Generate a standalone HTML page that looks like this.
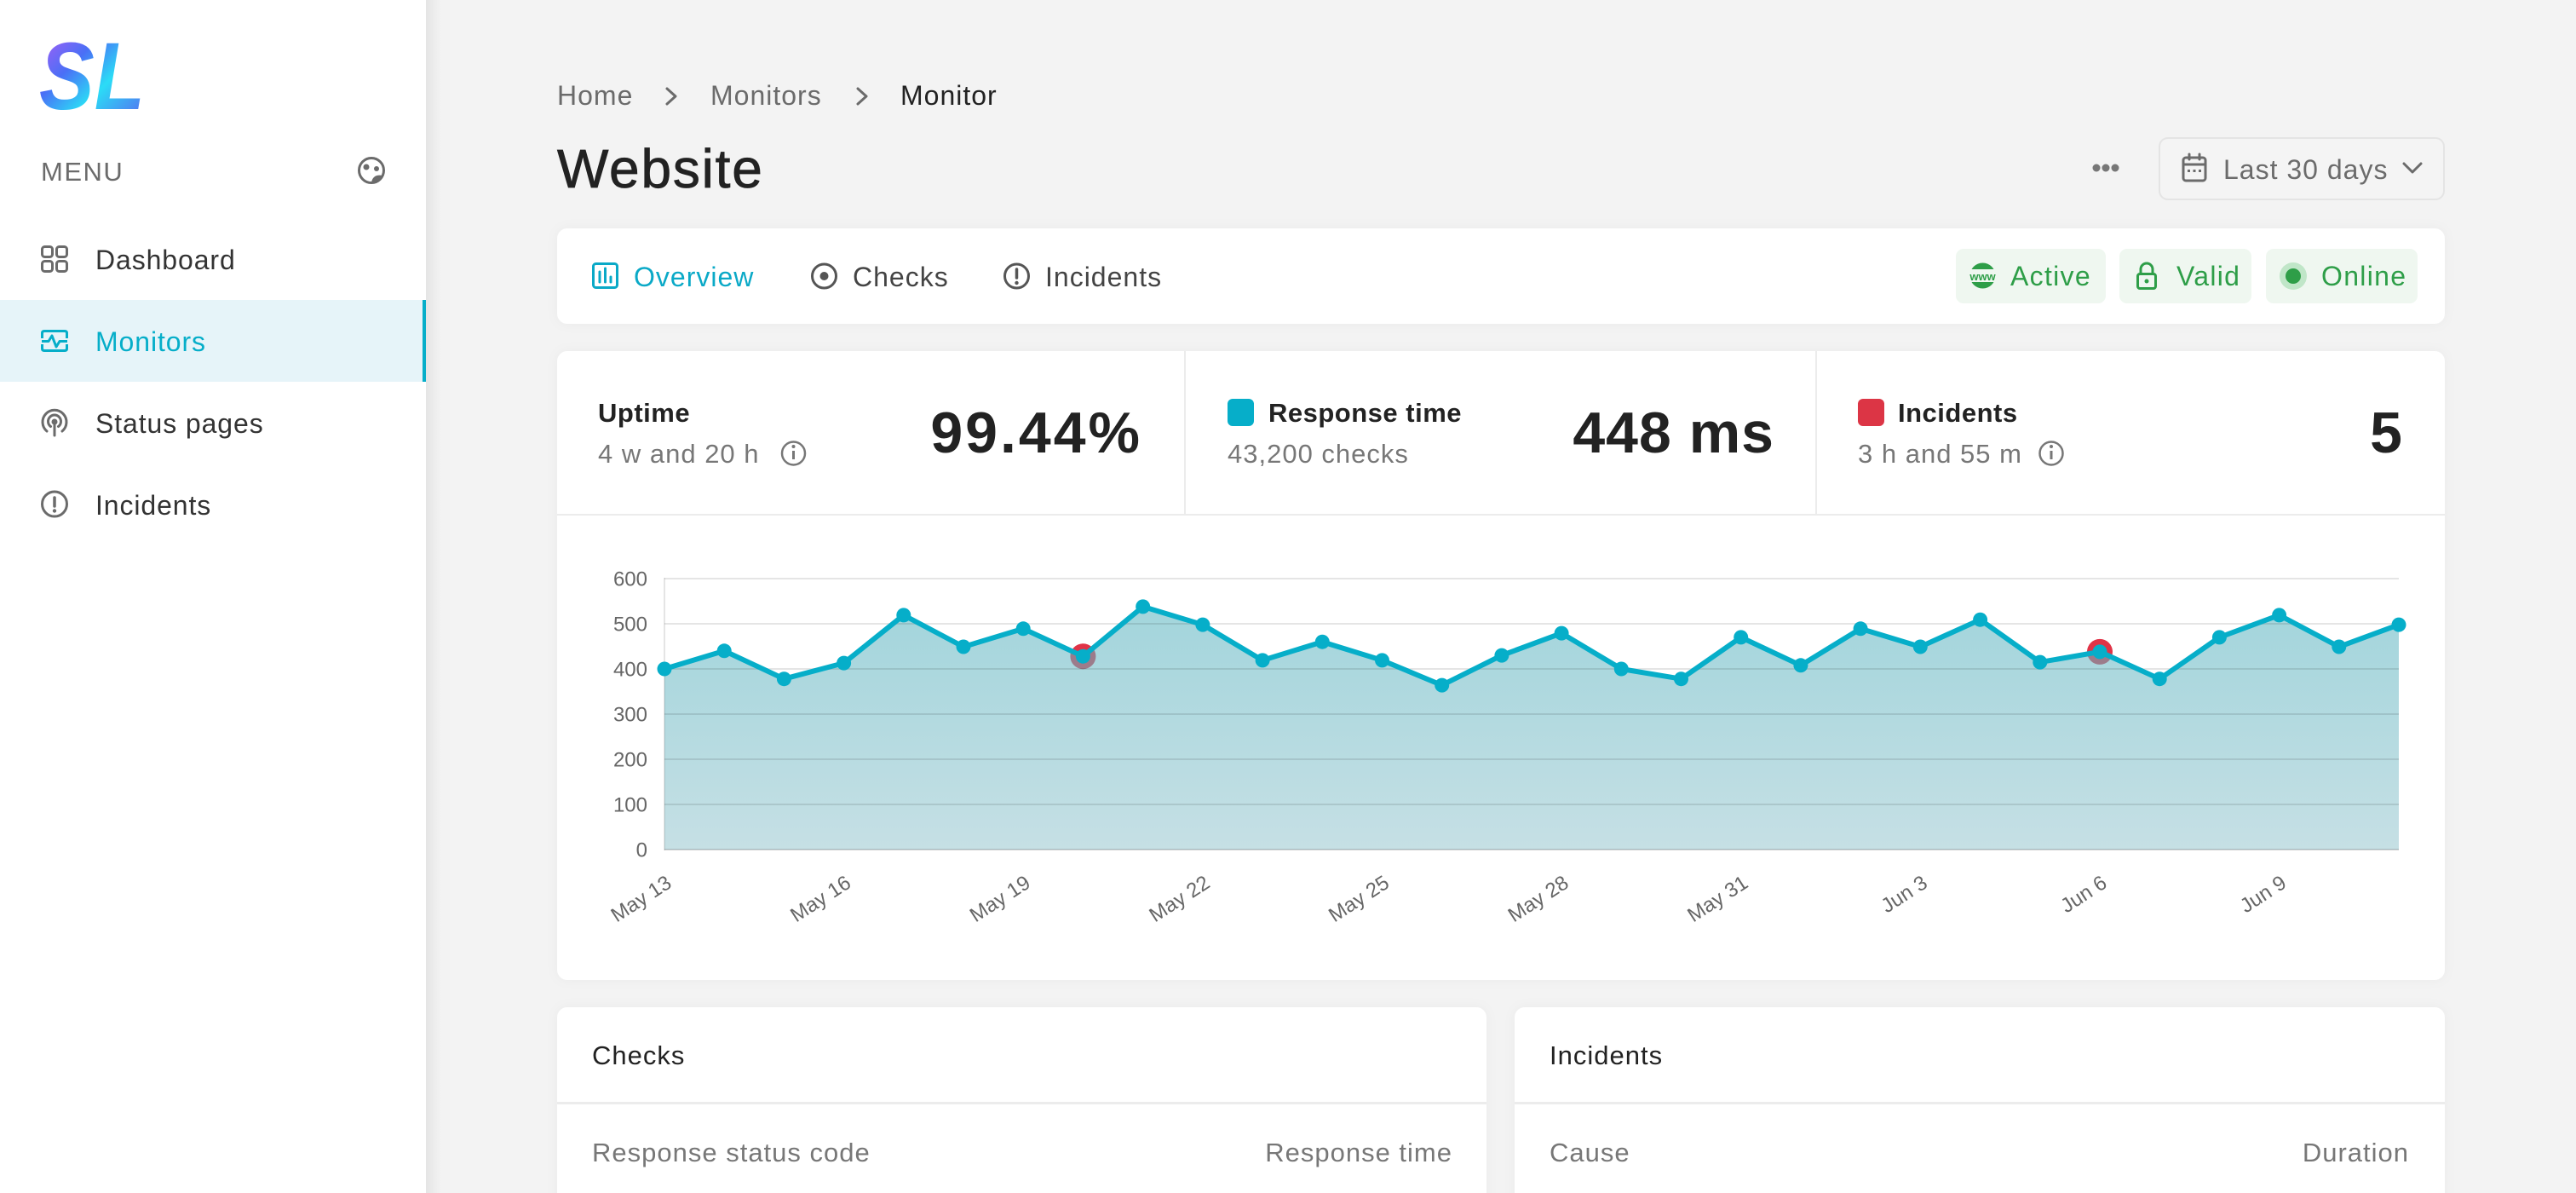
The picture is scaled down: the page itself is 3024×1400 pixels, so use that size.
<!DOCTYPE html>
<html><head><meta charset="utf-8"><style>
html,body{margin:0;padding:0;background:#f3f3f3;width:3024px;height:1400px;overflow:hidden}
svg{display:block}
text{font-family:"Liberation Sans",sans-serif}
</style></head><body>
<svg width="3024" height="1400" viewBox="0 0 3024 1400" xmlns="http://www.w3.org/2000/svg">
<defs>
<linearGradient id="lg" x1="0" y1="0" x2="1" y2="1">
<stop offset="0" stop-color="#c05af6"/><stop offset="0.35" stop-color="#4a6ff6"/><stop offset="0.6" stop-color="#2bdcf6"/><stop offset="1" stop-color="#5d58f0"/>
</linearGradient>
<linearGradient id="ag" gradientUnits="userSpaceOnUse" x1="0" y1="679" x2="0" y2="997">
<stop offset="0" stop-color="#4fb0bd"/><stop offset="1" stop-color="#97c6cf"/>
</linearGradient>
<linearGradient id="sbs" x1="0" y1="0" x2="1" y2="0">
<stop offset="0" stop-color="#000" stop-opacity="0.06"/><stop offset="1" stop-color="#000" stop-opacity="0"/>
</linearGradient>
<filter id="sh" x="-5%" y="-20%" width="110%" height="140%"><feDropShadow dx="0" dy="0" stdDeviation="7" flood-color="#000" flood-opacity="0.035"/></filter>
</defs>

<!-- Sidebar -->
<rect x="500" y="0" width="18" height="1400" fill="url(#sbs)"/>
<rect x="0" y="0" width="500" height="1400" fill="#fff"/>
<text x="46" y="128" font-size="112" font-weight="bold" font-style="italic" textLength="124" lengthAdjust="spacingAndGlyphs" fill="url(#lg)">SL</text>
<text x="48" y="212" font-size="31" letter-spacing="1.5" fill="#6b6b6b">MENU</text>
<g stroke="#6b6b6b" stroke-width="3" fill="none"><circle cx="436" cy="200" r="14.5"/></g>
<circle cx="430" cy="196" r="3.5" fill="#6b6b6b"/><circle cx="442" cy="198" r="3" fill="#6b6b6b"/>
<path d="M436 214 Q438 204 449 206 Q446 212 436 214Z" fill="#6b6b6b"/>

<rect x="0" y="352" width="500" height="96" fill="#e6f4f9"/>
<rect x="496" y="352" width="4" height="96" fill="#06aec9"/>

<g stroke="#6b6b6b" stroke-width="3" fill="none">
<rect x="49.5" y="289.5" width="12" height="12" rx="3"/><rect x="66.5" y="289.5" width="12" height="12" rx="3"/>
<rect x="49.5" y="306.5" width="12" height="12" rx="3"/><rect x="66.5" y="306.5" width="12" height="12" rx="3"/>
</g>
<g stroke="#06aec9" stroke-width="3" fill="none" stroke-linejoin="round">
<path d="M49.5 397 V391 Q49.5 388.5 52 388.5 H76 Q78.5 388.5 78.5 391 V397"/>
<path d="M49.5 404 V409 Q49.5 411.5 52 411.5 H76 Q78.5 411.5 78.5 409 V404"/>
<polyline points="49,400.5 57,400.5 61,394 66,407 70,400.5 79,400.5"/>
</g>
<g stroke="#6b6b6b" stroke-width="3" fill="none" stroke-linecap="round">
<path d="M55 506 A14 14 0 1 1 73 506"/>
<path d="M59.5 500.5 A7.5 7.5 0 1 1 68.5 500.5"/>
<line x1="64" y1="496" x2="64" y2="511"/>
</g>
<circle cx="64" cy="495" r="3.5" fill="#6b6b6b"/>
<circle cx="64" cy="591.5" r="14.5" stroke="#6b6b6b" stroke-width="3" fill="none"/>
<line x1="64" y1="584" x2="64" y2="594" stroke="#6b6b6b" stroke-width="3.5" stroke-linecap="round"/>
<circle cx="64" cy="599.5" r="2.2" fill="#6b6b6b"/>

<g font-size="32" letter-spacing="0.9">
<text x="112" y="316" fill="#333">Dashboard</text>
<text x="112" y="412" fill="#06aec9">Monitors</text>
<text x="112" y="508" fill="#333">Status pages</text>
<text x="112" y="604" fill="#333">Incidents</text>
</g>

<!-- Header -->
<g font-size="32" letter-spacing="1">
<text x="654" y="123" fill="#6b6b6b">Home</text>
<text x="834" y="123" fill="#6b6b6b">Monitors</text>
<text x="1057" y="123" fill="#222">Monitor</text>
</g>
<g stroke="#6b6b6b" stroke-width="3" fill="none" stroke-linecap="round" stroke-linejoin="round">
<polyline points="783,104 793,113 783,122"/><polyline points="1007,104 1017,113 1007,122"/>
</g>
<text x="654" y="220" font-size="64" letter-spacing="1.8" fill="#222" stroke="#222" stroke-width="0.8">Website</text>

<circle cx="2461" cy="197" r="4.5" fill="#777"/><circle cx="2472" cy="197" r="4.5" fill="#777"/><circle cx="2483" cy="197" r="4.5" fill="#777"/>
<rect x="2535" y="162" width="334" height="72" rx="10" fill="#f4f4f4" stroke="#e4e4e4" stroke-width="2"/>
<g stroke="#6b6b6b" stroke-width="3" fill="none" stroke-linecap="round">
<rect x="2563" y="185" width="26" height="27" rx="3"/><line x1="2563" y1="193" x2="2589" y2="193"/>
<line x1="2570" y1="181" x2="2570" y2="187"/><line x1="2582" y1="181" x2="2582" y2="187"/>
<polyline points="2822,192 2832,202 2842,192" stroke-linejoin="round"/>
</g>
<rect x="2568" y="199" width="3" height="3" fill="#6b6b6b"/><rect x="2574.5" y="199" width="3" height="3" fill="#6b6b6b"/><rect x="2581" y="199" width="3" height="3" fill="#6b6b6b"/>
<text x="2610" y="210" font-size="32" letter-spacing="1" fill="#6b6b6b">Last 30 days</text>

<!-- Tabs card -->
<rect x="654" y="268" width="2216" height="112" rx="12" fill="#fff" filter="url(#sh)"/>
<g stroke="#0aa9c7" stroke-width="3" fill="none" stroke-linecap="round">
<rect x="696.5" y="309.5" width="28" height="28" rx="3"/>
<line x1="704" y1="319" x2="704" y2="331"/><line x1="710.5" y1="315" x2="710.5" y2="331"/><line x1="717" y1="325" x2="717" y2="331"/>
</g>
<text x="744" y="336" font-size="32" letter-spacing="1" fill="#0aa9c7">Overview</text>
<circle cx="967.5" cy="324" r="14" stroke="#555" stroke-width="3" fill="none"/><circle cx="967.5" cy="324" r="5" fill="#555"/>
<text x="1001" y="336" font-size="32" letter-spacing="1" fill="#444">Checks</text>
<circle cx="1193.5" cy="324" r="14" stroke="#555" stroke-width="3" fill="none"/>
<line x1="1193.5" y1="316" x2="1193.5" y2="326" stroke="#555" stroke-width="3.5" stroke-linecap="round"/><circle cx="1193.5" cy="332" r="2.2" fill="#555"/>
<text x="1227" y="336" font-size="32" letter-spacing="1" fill="#444">Incidents</text>

<rect x="2296" y="292" width="176" height="64" rx="9" fill="#eff7f0"/>
<rect x="2488" y="292" width="155" height="64" rx="9" fill="#eff7f0"/>
<rect x="2660" y="292" width="178" height="64" rx="9" fill="#eff7f0"/>
<circle cx="2327.5" cy="323.5" r="15" fill="#2e9e48"/>
<rect x="2311" y="316" width="33" height="15" fill="#eff7f0"/>
<text x="2327.5" y="329" font-size="13" font-weight="bold" text-anchor="middle" fill="#2e9e48">www</text>
<g stroke="#2e9e48" stroke-width="3" fill="none">
<path d="M2513 321 V316 A7 7 0 0 1 2527 316 V321"/>
<rect x="2509.5" y="321.5" width="21" height="17" rx="2.5"/>
</g>
<circle cx="2520" cy="330" r="2.5" fill="#2e9e48"/>
<circle cx="2692" cy="324" r="16" fill="#c0e6c8"/><circle cx="2692" cy="324" r="9" fill="#2e9e48"/>
<g font-size="32" letter-spacing="1.3" fill="#2e9e48">
<text x="2360" y="335">Active</text><text x="2555" y="335">Valid</text><text x="2725" y="335">Online</text>
</g>

<!-- Stats card -->
<rect x="654" y="412" width="2216" height="738" rx="12" fill="#fff" filter="url(#sh)"/>
<rect x="654" y="603" width="2216" height="2" fill="#ececec"/>
<rect x="1390" y="412" width="2" height="192" fill="#ececec"/>
<rect x="2131" y="412" width="2" height="192" fill="#ececec"/>

<text x="702" y="495" font-size="31" font-weight="bold" letter-spacing="0.5" fill="#222">Uptime</text>
<text x="702" y="543" font-size="31" letter-spacing="1" fill="#777">4 w and 20 h</text>
<circle cx="931.5" cy="532" r="13.5" stroke="#777" stroke-width="2.5" fill="none"/>
<line x1="931.5" y1="529" x2="931.5" y2="539" stroke="#777" stroke-width="3"/><circle cx="931.5" cy="524" r="2" fill="#777"/>
<text x="1341" y="531" font-size="68" font-weight="bold" letter-spacing="3" text-anchor="end" fill="#222">99.44%</text>

<rect x="1441" y="468" width="31" height="32" rx="6" fill="#06aec9"/>
<text x="1489" y="495" font-size="31" font-weight="bold" letter-spacing="0.5" fill="#222">Response time</text>
<text x="1441" y="543" font-size="31" letter-spacing="1" fill="#777">43,200 checks</text>
<text x="2083" y="531" font-size="68" font-weight="bold" letter-spacing="1" text-anchor="end" fill="#222">448 ms</text>

<rect x="2181" y="468" width="31" height="32" rx="6" fill="#dc3545"/>
<text x="2228" y="495" font-size="31" font-weight="bold" letter-spacing="0.5" fill="#222">Incidents</text>
<text x="2181" y="543" font-size="31" letter-spacing="1" fill="#777">3 h and 55 m</text>
<circle cx="2408" cy="532" r="13.5" stroke="#777" stroke-width="2.5" fill="none"/>
<line x1="2408" y1="529" x2="2408" y2="539" stroke="#777" stroke-width="3"/><circle cx="2408" cy="524" r="2" fill="#777"/>
<text x="2820" y="531" font-size="68" font-weight="bold" text-anchor="end" fill="#222">5</text>

<!-- Chart -->
<circle cx="1271.4" cy="770.2" r="15" fill="#e03347"/>
<circle cx="2465.0" cy="764.9" r="15" fill="#e03347"/>
<path fill="url(#ag)" opacity="0.55" d="M780 997 L780.0 785.0 L850.2 763.8 L920.4 796.7 L990.6 778.1 L1060.8 721.9 L1131.0 759.0 L1201.2 737.8 L1271.4 770.2 L1341.7 711.9 L1411.9 733.1 L1482.1 774.9 L1552.3 753.2 L1622.5 774.9 L1692.7 804.1 L1762.9 769.1 L1833.1 743.1 L1903.3 785.0 L1973.5 796.7 L2043.7 747.9 L2113.9 780.8 L2184.1 737.8 L2254.3 759.0 L2324.6 727.2 L2394.8 777.1 L2465.0 764.9 L2535.2 796.7 L2605.4 747.9 L2675.6 721.9 L2745.8 759.0 L2816.0 733.1 L2816 997 Z"/>
<g stroke="#000" stroke-opacity="0.1" stroke-width="2">
<line x1="780" y1="679" x2="2816" y2="679"/><line x1="780" y1="732" x2="2816" y2="732"/>
<line x1="780" y1="785" x2="2816" y2="785"/><line x1="780" y1="838" x2="2816" y2="838"/>
<line x1="780" y1="891" x2="2816" y2="891"/><line x1="780" y1="944" x2="2816" y2="944"/>
<line x1="780" y1="678" x2="780" y2="998"/>
</g>
<line x1="780" y1="997" x2="2816" y2="997" stroke="#000" stroke-opacity="0.16" stroke-width="2"/>
<polyline fill="none" stroke="#06aec9" stroke-width="6" stroke-linejoin="round" stroke-linecap="round" points="780.0,785.0 850.2,763.8 920.4,796.7 990.6,778.1 1060.8,721.9 1131.0,759.0 1201.2,737.8 1271.4,770.2 1341.7,711.9 1411.9,733.1 1482.1,774.9 1552.3,753.2 1622.5,774.9 1692.7,804.1 1762.9,769.1 1833.1,743.1 1903.3,785.0 1973.5,796.7 2043.7,747.9 2113.9,780.8 2184.1,737.8 2254.3,759.0 2324.6,727.2 2394.8,777.1 2465.0,764.9 2535.2,796.7 2605.4,747.9 2675.6,721.9 2745.8,759.0 2816.0,733.1"/>
<g fill="#06aec9">
<circle cx="780.0" cy="785.0" r="8.5"/><circle cx="850.2" cy="763.8" r="8.5"/><circle cx="920.4" cy="796.7" r="8.5"/><circle cx="990.6" cy="778.1" r="8.5"/><circle cx="1060.8" cy="721.9" r="8.5"/><circle cx="1131.0" cy="759.0" r="8.5"/><circle cx="1201.2" cy="737.8" r="8.5"/><circle cx="1271.4" cy="770.2" r="8.5"/><circle cx="1341.7" cy="711.9" r="8.5"/><circle cx="1411.9" cy="733.1" r="8.5"/><circle cx="1482.1" cy="774.9" r="8.5"/><circle cx="1552.3" cy="753.2" r="8.5"/><circle cx="1622.5" cy="774.9" r="8.5"/><circle cx="1692.7" cy="804.1" r="8.5"/><circle cx="1762.9" cy="769.1" r="8.5"/><circle cx="1833.1" cy="743.1" r="8.5"/><circle cx="1903.3" cy="785.0" r="8.5"/><circle cx="1973.5" cy="796.7" r="8.5"/><circle cx="2043.7" cy="747.9" r="8.5"/><circle cx="2113.9" cy="780.8" r="8.5"/><circle cx="2184.1" cy="737.8" r="8.5"/><circle cx="2254.3" cy="759.0" r="8.5"/><circle cx="2324.6" cy="727.2" r="8.5"/><circle cx="2394.8" cy="777.1" r="8.5"/><circle cx="2465.0" cy="764.9" r="8.5"/><circle cx="2535.2" cy="796.7" r="8.5"/><circle cx="2605.4" cy="747.9" r="8.5"/><circle cx="2675.6" cy="721.9" r="8.5"/><circle cx="2745.8" cy="759.0" r="8.5"/><circle cx="2816.0" cy="733.1" r="8.5"/>
</g>
<g font-size="24" fill="#666" text-anchor="end">
<text x="760" y="687.5">600</text><text x="760" y="740.5">500</text><text x="760" y="793.5">400</text>
<text x="760" y="846.5">300</text><text x="760" y="899.5">200</text><text x="760" y="952.5">100</text><text x="760" y="1005.5">0</text>
</g>
<g font-size="24" fill="#666" text-anchor="end">
<text transform="translate(790,1040) rotate(-33)">May 13</text>
<text transform="translate(1000.6,1040) rotate(-33)">May 16</text>
<text transform="translate(1211.2,1040) rotate(-33)">May 19</text>
<text transform="translate(1421.9,1040) rotate(-33)">May 22</text>
<text transform="translate(1632.5,1040) rotate(-33)">May 25</text>
<text transform="translate(1843.1,1040) rotate(-33)">May 28</text>
<text transform="translate(2053.7,1040) rotate(-33)">May 31</text>
<text transform="translate(2264.3,1040) rotate(-33)">Jun 3</text>
<text transform="translate(2475,1040) rotate(-33)">Jun 6</text>
<text transform="translate(2685.6,1040) rotate(-33)">Jun 9</text>
</g>

<!-- Bottom cards -->
<rect x="654" y="1182" width="1091" height="260" rx="12" fill="#fff" filter="url(#sh)"/>
<rect x="1778" y="1182" width="1092" height="260" rx="12" fill="#fff" filter="url(#sh)"/>
<rect x="654" y="1293" width="1091" height="3" fill="#ececec"/>
<rect x="1778" y="1293" width="1092" height="3" fill="#ececec"/>
<g font-size="31" letter-spacing="1">
<text x="695" y="1249" fill="#222">Checks</text>
<text x="1819" y="1249" fill="#222">Incidents</text>
<text x="695" y="1363" fill="#777">Response status code</text>
<text x="1705" y="1363" fill="#777" text-anchor="end">Response time</text>
<text x="1819" y="1363" fill="#777">Cause</text>
<text x="2828" y="1363" fill="#777" text-anchor="end">Duration</text>
</g>
</svg>
</body></html>
